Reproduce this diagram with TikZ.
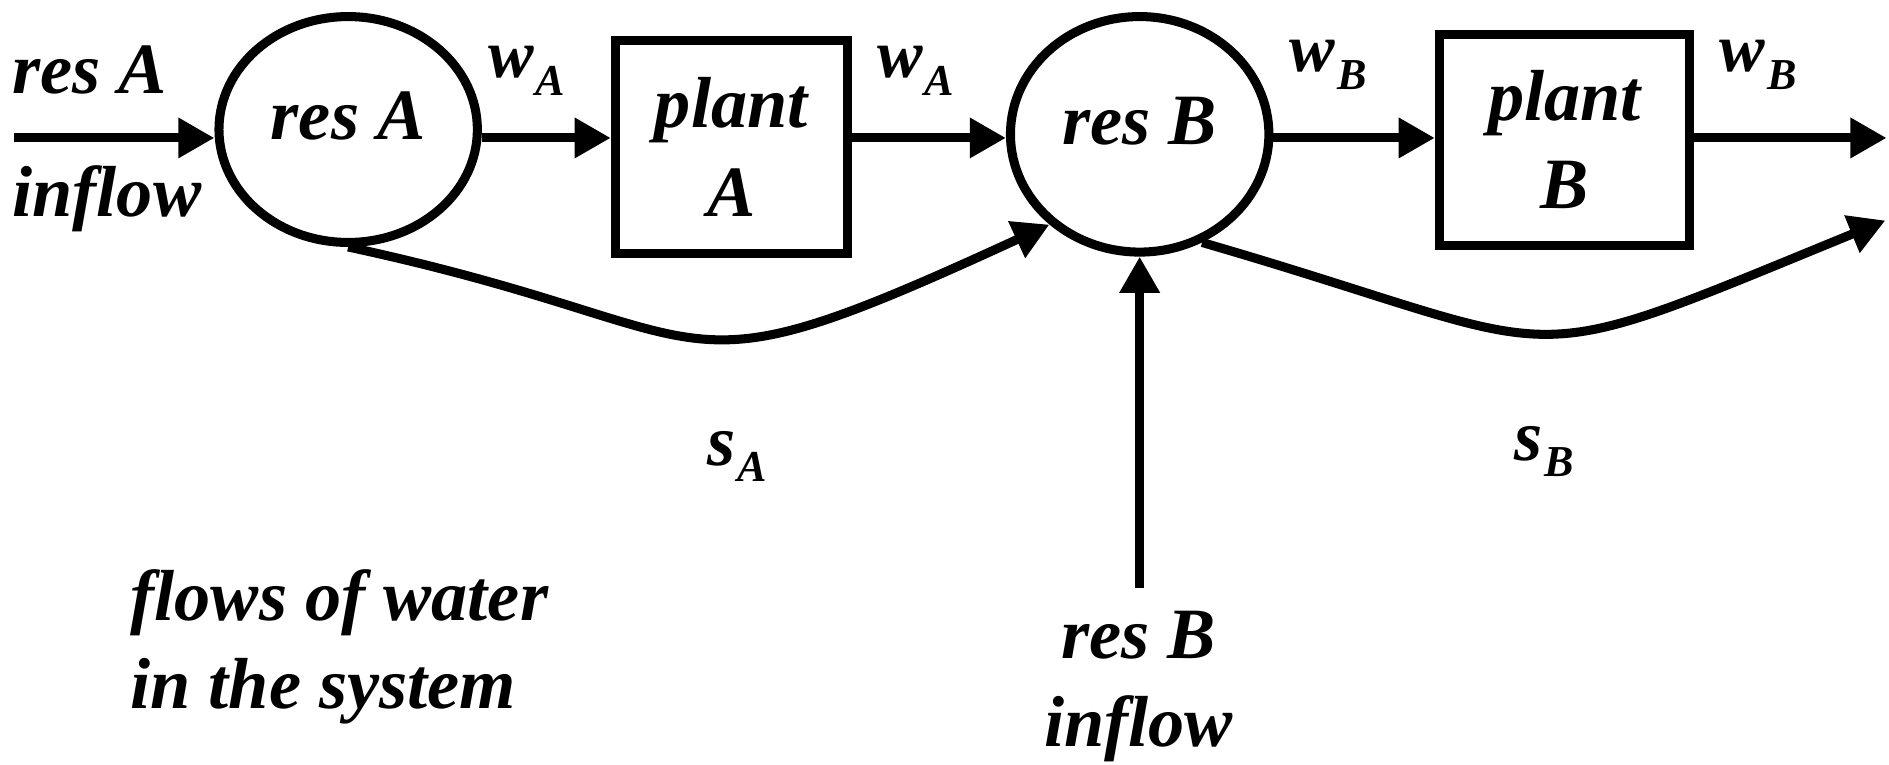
\documentclass[tikz,border=0pt]{standalone}
\usepackage{fontspec}
\setmainfont{LiberationSerif}[Extension=.ttf, UprightFont=*-Regular, BoldFont=*-Bold, ItalicFont=*-Italic, BoldItalicFont=*-BoldItalic]
\usetikzlibrary{arrows.meta}
\usetikzlibrary{shapes.geometric}
\usetikzlibrary{calc}

\newcommand{\lowsub}[2]{\hspace{1pt}\raisebox{-#1}{\fontsize{22}{22}\selectfont #2}}

\begin{document}
\begin{tikzpicture}[x=0.6pt, y=-0.6pt,
    txt/.style={font=\fontsize{36}{44}\selectfont\bfseries\itshape, inner sep=0pt},
    res/.style={ellipse, draw, line width=4.5pt, inner sep=0pt, text height=24pt, text depth=14pt},
    plant/.style={rectangle, draw, line width=4.5pt, inner sep=0pt, align=center},
    flow/.style={line width=4.5pt, -{Triangle[length=18pt, width=19pt]}}]

    \useasboundingbox (0,0) rectangle (1568,635);

    % reservoirs and plants
    \node[txt, res, minimum width=128.7pt, minimum height=112.5pt] (resA) at (289,107.5) {res A};
    \node[txt, plant, minimum width=115.5pt, minimum height=105.9pt] (plantA) at (607,122) {plant\\A};
    \node[txt, res, minimum width=128.7pt, minimum height=117.3pt] (resB) at (946,111.5) {res B};
    \node[txt, plant, minimum width=124.5pt, minimum height=105pt] (plantB) at (1298.5,116) {plant\\B};

    \coordinate (inA) at (12,114.5);
    \coordinate (outB) at (1566,114.5);
    \coordinate (outS) at (1565,183);
    \coordinate (inB) at (946,488);

    % water flows
    \draw[flow] (inA) -- (inA -| resA.west);
    \draw[flow] (resA.east |- inA) -- (plantA.west |- inA);
    \draw[flow] (plantA.east |- inA) -- (resB.west |- inA);
    \draw[flow] (resB.east |- inA) -- (plantB.west |- inA);
    \draw[flow] (plantB.east |- inA) -- (outB);
    \draw[flow] (resA.south) .. controls +(330,71) and +(-330,152) .. (resB.225);
    \draw[flow] (resB.-60) .. controls +(320,93) and +(-320,131) .. (outS);
    \draw[flow] (inB) -- (resB.south);

    % labels
    \node[txt, anchor=base west] (lblResA) at (10,78) {res A};
    \node[txt, anchor=base west] (lblInflowA) at (10,180) {inflow};
    \node[txt, anchor=base west] (wA1) at (405,64) {\fontsize{34}{34}\selectfont w\lowsub{9pt}{A}};
    \node[txt, anchor=base west] (wA2) at (728,64) {\fontsize{34}{34}\selectfont w\lowsub{9pt}{A}};
    \node[txt, anchor=base west] (wB1) at (1070,59) {\fontsize{34}{34}\selectfont w\lowsub{9pt}{B}};
    \node[txt, anchor=base west] (wB2) at (1427,59) {\fontsize{34}{34}\selectfont w\lowsub{9pt}{B}};
    \node[txt, anchor=base west] (sA) at (587,386) {s\lowsub{8pt}{A}};
    \node[txt, anchor=base west] (sB) at (1257,382) {s\lowsub{8pt}{B}};
    \node[txt, align=center, anchor=base] (lblInB) at (945,620) {res B\\inflow};
    \node[txt, align=left, anchor=base west] (note) at (108,588) {flows of water\\in the system};
\end{tikzpicture}
\end{document}
